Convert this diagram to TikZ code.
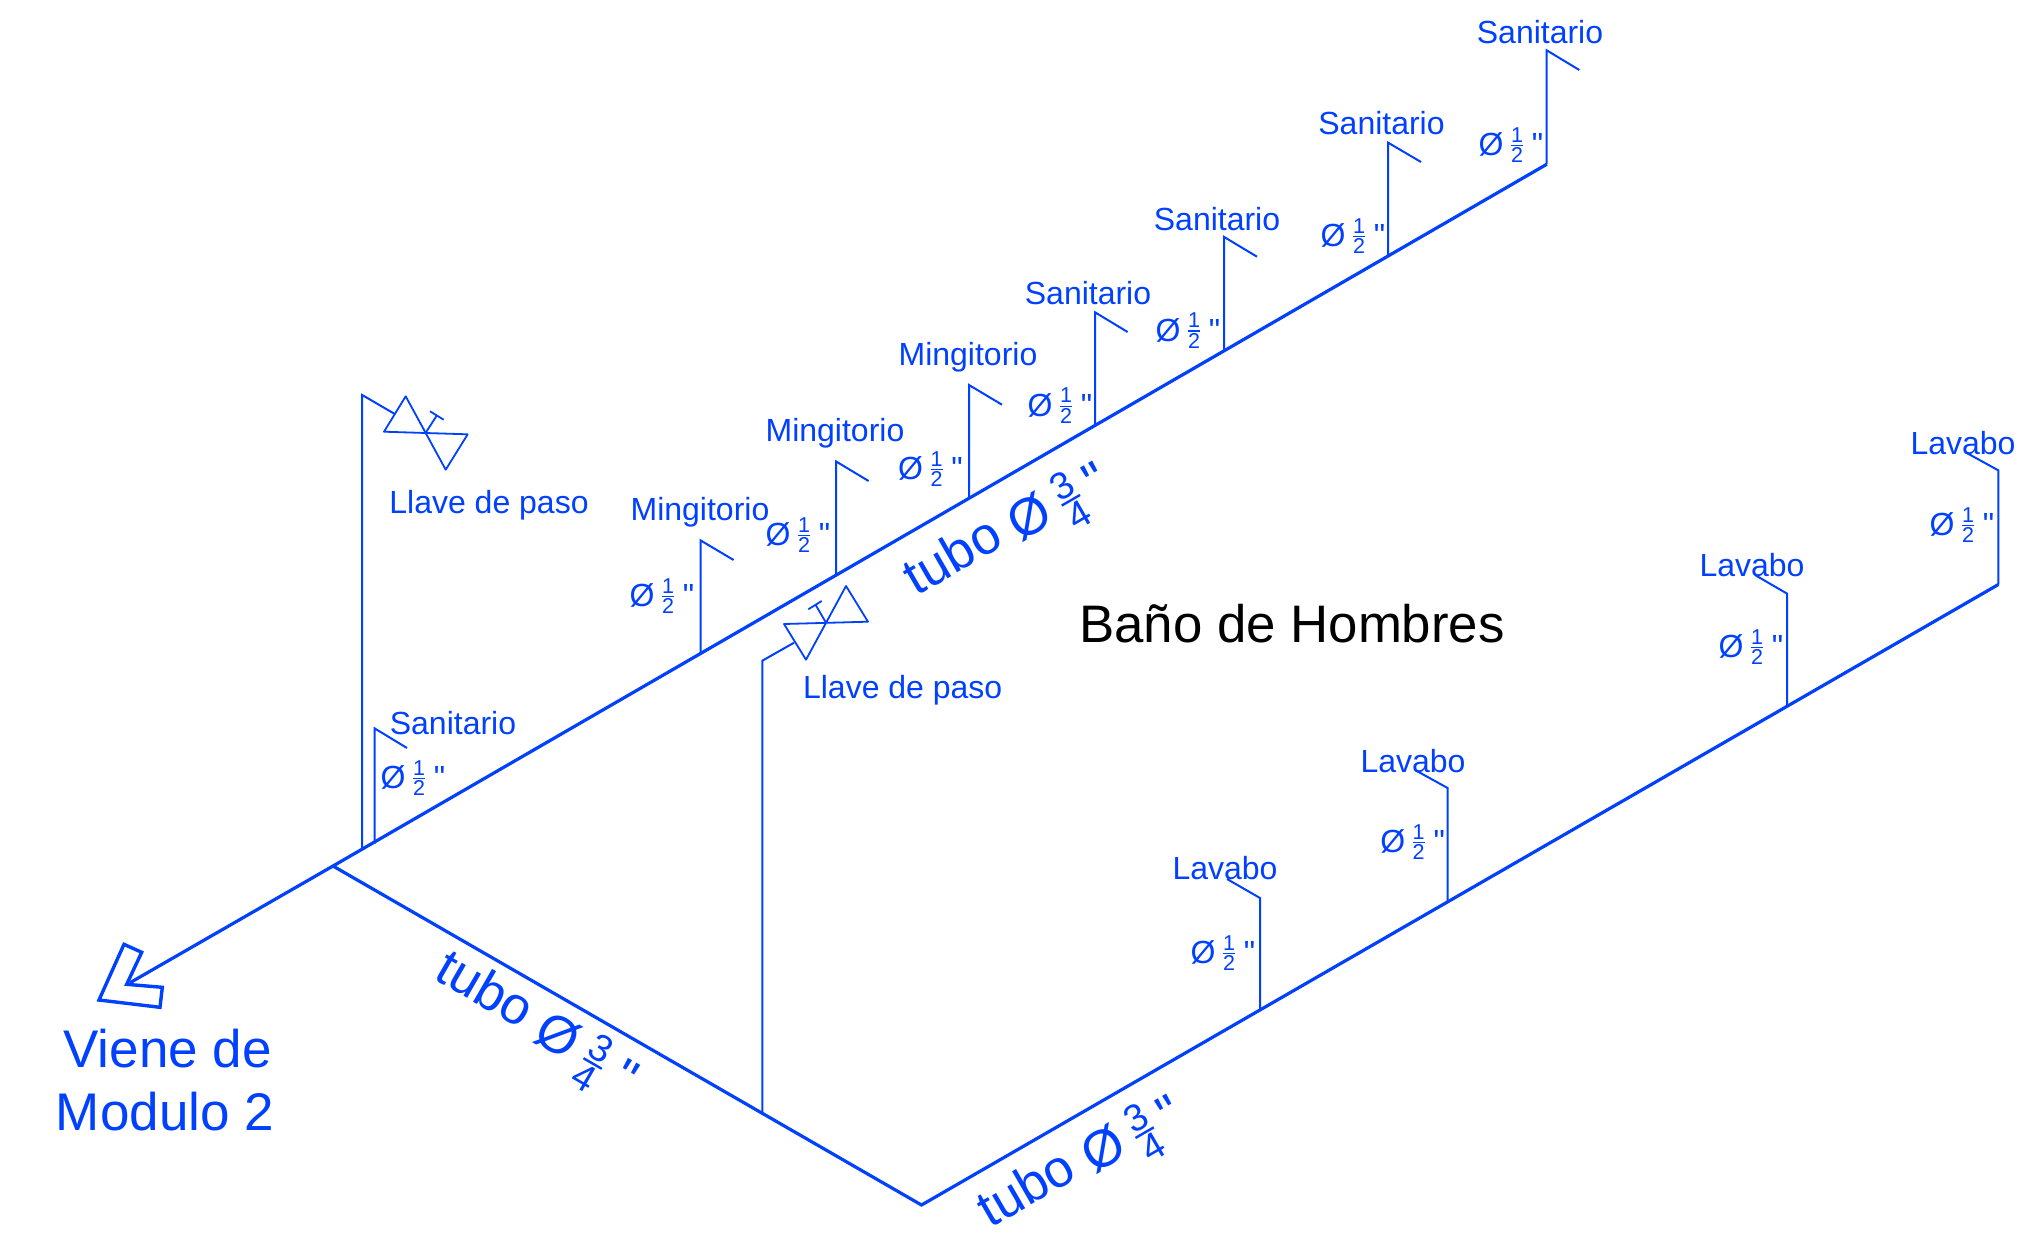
\documentclass[tikz,border=0pt]{standalone}
\usepackage{fontspec}
\setmainfont{Liberation Sans}
\newfontfamily\quotefont{Liberation Sans}
\definecolor{pipeblue}{RGB}{0,64,255}
\newcommand\fsz[1]{\fontsize{#1}{#1}\selectfont}
\newcommand\qmark{{\quotefont\symbol{34}}}
% small diameter label: O-slash 1/2 "
\newcommand\sdia[2]{\raisebox{-4pt}{Ø}\kern6.3pt\ensuremath{{\hbox{\fsz{21.5}#1}\above 1.4pt\hbox{\fsz{21.5}#2}}}\kern7.7pt\raisebox{-4pt}{\qmark}}
% large diameter label: #1 #2 fraction, #3 raise of the inch mark, #4 gap before it
\newcommand\bdia[4]{tubo\ \raisebox{-5pt}{Ø}\kern12pt\ensuremath{{\hbox{\fsz{38}#1}\above 2.4pt\hbox{\fsz{38}#2}}}\kern#4\raisebox{#3}{\qmark}}
\tikzset{
  mainpipe/.style={draw=pipeblue,line width=3.2pt,line join=miter},
  riser/.style={draw=pipeblue,line width=2pt,line join=miter},
  valveline/.style={draw=pipeblue,line width=1.8pt,line join=round},
  fixlabel/.style={text=pipeblue,anchor=base,inner sep=0pt,font=\fsz{32},yshift=-0.7pt},
  dialabel/.style={text=pipeblue,anchor=center,inner sep=0pt,font=\fsz{32}},
  tubelabel/.style={text=pipeblue,anchor=base,inner sep=0pt,font=\fsz{52.5}},
  biglabel/.style={inner sep=0pt},
}
\begin{document}
\begin{tikzpicture}[x=1pt,y=-1pt]
\useasboundingbox (0,0) rectangle (2032,1235);
\fill[white] (0,0) rectangle (2032,1235);
% main pipe junctions
\coordinate (tip) at (130,982.7);
\coordinate (J) at (333,866);
\coordinate (endU) at (1546.7,164.3);
\coordinate (corner) at (921.5,1205);
\coordinate (endL) at (1998.4,584.5);
\draw[mainpipe] (tip) -- (J) -- (endU);
\draw[mainpipe] (J) -- (corner) -- (endL);
% return arrow head
\coordinate (a1) at (124,944.3);
\coordinate (a2) at (141.7,952.3);
\coordinate (a3) at (126.7,984.3);
\coordinate (a4) at (162.3,987.3);
\coordinate (a5) at (160,1007.3);
\coordinate (a6) at (99,1000);
\draw[mainpipe,line width=3.4pt] (a1) -- (a2) -- (a3) -- (a4) -- (a5) -- (a6) -- cycle;
% risers on upper branch
\coordinate (u1b) at (1546.7,164.3); \coordinate (u1t) at (1546.7,50.3); \coordinate (u1h) at (1579.3,70);
\coordinate (u2b) at (1388,256.6); \coordinate (u2t) at (1388,142.6); \coordinate (u2h) at (1421,162);
\coordinate (u3b) at (1224.2,351); \coordinate (u3t) at (1224.2,237); \coordinate (u3h) at (1257,256.7);
\coordinate (u4b) at (1095,425); \coordinate (u4t) at (1095,312.3); \coordinate (u4h) at (1127.6,332);
\coordinate (u5b) at (969,497.7); \coordinate (u5t) at (969,385); \coordinate (u5h) at (1002,404.7);
\coordinate (u6b) at (836,574); \coordinate (u6t) at (836,461.4); \coordinate (u6h) at (868.6,481);
\coordinate (u7b) at (700.6,653); \coordinate (u7t) at (700.6,540.4); \coordinate (u7h) at (733.6,560);
\coordinate (u8b) at (374.5,843.7); \coordinate (u8t) at (374.5,728.3); \coordinate (u8h) at (407,748);
\foreach \i in {1,...,8} {\draw[riser] (u\i b) -- (u\i t) -- (u\i h);}
% risers on lower branch
\coordinate (l1b) at (1260,1010.9); \coordinate (l1t) at (1260,898); \coordinate (l1h) at (1227,879);
\coordinate (l2b) at (1447.6,902); \coordinate (l2t) at (1447.6,788); \coordinate (l2h) at (1415,770);
\coordinate (l3b) at (1787,706); \coordinate (l3t) at (1787,593.6); \coordinate (l3h) at (1755,575);
\coordinate (l4b) at (1998.4,584.5); \coordinate (l4t) at (1998.4,470.4); \coordinate (l4h) at (1965,452);
\foreach \i in {1,...,4} {\draw[riser] (l\i b) -- (l\i t) -- (l\i h);}
% valve 1
\coordinate (v1b) at (362.2,850); \coordinate (v1t) at (362.2,395); \coordinate (v1e) at (394.3,413.7);
\draw[riser] (v1b) -- (v1t) -- (v1e);
\coordinate (v1a) at (405.7,396.3); \coordinate (v1c) at (384,431.7); \coordinate (v1m) at (425.7,432.7);
\coordinate (v1d) at (467.7,434.3); \coordinate (v1f) at (445.7,469.7);
\draw[valveline] (v1a) -- (v1c) -- (v1d) -- (v1f) -- cycle;
\coordinate (v1s) at (436.7,415.7); \coordinate (v1p) at (430,411.3); \coordinate (v1q) at (443.7,419.7);
\draw[valveline] (v1m) -- (v1s) (v1p) -- (v1q);
% valve 2
\coordinate (v2b) at (762.3,1113); \coordinate (v2t) at (762.3,660.7); \coordinate (v2e) at (794,642.7);
\draw[riser] (v2b) -- (v2t) -- (v2e);
\coordinate (v2a) at (784,624); \coordinate (v2c) at (806,659.7); \coordinate (v2m) at (826,622.7);
\coordinate (v2d) at (846,586); \coordinate (v2f) at (868,621.7);
\draw[valveline] (v2a) -- (v2c) -- (v2d) -- (v2f) -- cycle;
\coordinate (v2s) at (815.7,605); \coordinate (v2p) at (808.3,609.3); \coordinate (v2q) at (821.7,601);
\draw[valveline] (v2m) -- (v2s) (v2p) -- (v2q);
% fixture labels
\node[fixlabel] (s1) at (1540,43) {Sanitario};
\node[fixlabel] (s2) at (1381.5,134) {Sanitario};
\node[fixlabel] (s3) at (1217,230) {Sanitario};
\node[fixlabel] (s4) at (1088,304) {Sanitario};
\node[fixlabel] (m1) at (968,365) {Mingitorio};
\node[fixlabel] (m2) at (835,441) {Mingitorio};
\node[fixlabel] (m3) at (700,520) {Mingitorio};
\node[fixlabel] (s5) at (453,734) {Sanitario};
\node[fixlabel] (w1) at (1225,879) {Lavabo};
\node[fixlabel] (w2) at (1413,772) {Lavabo};
\node[fixlabel] (w3) at (1752,576) {Lavabo};
\node[fixlabel] (w4) at (1963,454) {Lavabo};
\node[fixlabel] (k1) at (489,513) {Llave de paso};
\node[fixlabel] (k2) at (902.7,698) {Llave de paso};
% small diameters
\node[dialabel] (d1) at (1511,145) {\sdia{1}{2}};
\node[dialabel] (d2) at (1353,236) {\sdia{1}{2}};
\node[dialabel] (d3) at (1188,330.5) {\sdia{1}{2}};
\node[dialabel] (d4) at (1060,405.6) {\sdia{1}{2}};
\node[dialabel] (d5) at (930.5,469) {\sdia{1}{2}};
\node[dialabel] (d6) at (798,535) {\sdia{1}{2}};
\node[dialabel] (d7) at (662,596) {\sdia{1}{2}};
\node[dialabel] (d8) at (413,778) {\sdia{1}{2}};
\node[dialabel] (d9) at (1223,953) {\sdia{1}{2}};
\node[dialabel] (d10) at (1412.6,842) {\sdia{1}{2}};
\node[dialabel] (d11) at (1751,647) {\sdia{1}{2}};
\node[dialabel] (d12) at (1962,525) {\sdia{1}{2}};
% large diameters
\node[tubelabel,rotate=30] (t1) at (1013.2,540.75) {\bdia{3}{4}{-7.3pt}{10.5pt}};
\node[tubelabel,rotate=-30] (t2) at (530.2,1034.65) {\bdia{3}{4}{-7.3pt}{14pt}};
\node[tubelabel,rotate=30] (t3) at (1086.9,1173.15) {\bdia{3}{4}{-7.3pt}{10.5pt}};
% titles
\node[biglabel,text=black,anchor=base,font=\fsz{52.8}] (title) at (1292,642.5) {Baño de Hombres};
\node[biglabel,text=pipeblue,align=center,anchor=center,font=\fsz{53}] (from) at (165,1080) {\kern5.4pt Viene de\\[10.5pt]Modulo 2};
\end{tikzpicture}
\end{document}
